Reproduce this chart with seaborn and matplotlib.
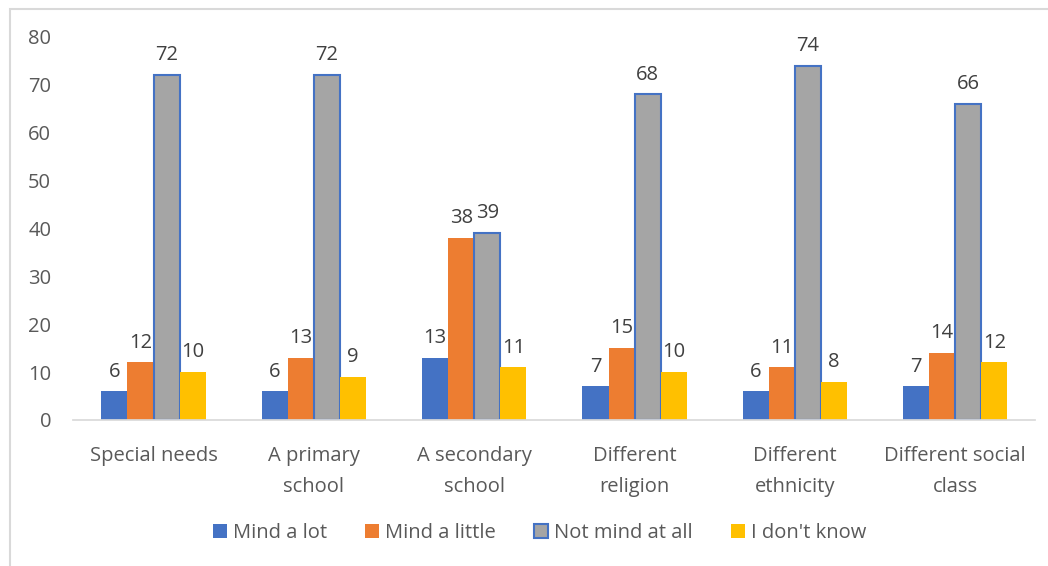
import matplotlib
matplotlib.use("Agg")
import matplotlib.pyplot as plt
import seaborn as sns
import pandas as pd
from matplotlib.patches import Rectangle

categories = ["Special needs", "A primary\nschool", "A secondary\nschool", "Different\nreligion", "Different\nethnicity", "Different social\nclass"]
series = ["Mind a lot", "Mind a little", "Not mind at all", "I don't know"]
mind_a_lot = [6, 6, 13, 7, 6, 7]
mind_a_little = [12, 13, 38, 15, 11, 14]
not_mind_at_all = [72, 72, 39, 68, 74, 66]
dont_know = [10, 9, 11, 10, 8, 12]
colors = ["#4472C4", "#ED7D31", "#A5A5A5", "#FFC000"]

rows = []
for s, vals in zip(series, [mind_a_lot, mind_a_little, not_mind_at_all, dont_know]):
    for c, v in zip(categories, vals):
        rows.append({"category": c, "series": s, "value": v})
df = pd.DataFrame(rows)

sns.set_theme(style="white")
plt.rcParams['font.family'] = ['Open Sans', 'DejaVu Sans']
txt = "#595959"
fs = 14.5

fig = plt.figure(figsize=(10.48, 5.66), dpi=100)
ax = fig.add_axes([0.07, 0.258, 0.918, 0.677])
sns.barplot(data=df, x="category", y="value", hue="series", palette=colors,
            order=categories, hue_order=series, width=0.65, ax=ax, saturation=1)

for i, cont in enumerate(ax.containers):
    for p in cont:
        if i == 2:
            p.set_edgecolor("#4472C4")
            p.set_linewidth(1.5)
        else:
            p.set_edgecolor("none")
    ax.bar_label(cont, fmt="%d", padding=7, fontsize=fs, color="#404040")

ax.set_ylim(0, 80)
ax.set_yticks(range(0, 81, 10))
ax.set_xlim(-0.5, 5.5)
ax.set_xlabel("")
ax.set_ylabel("")
ax.tick_params(axis="both", labelsize=fs, colors=txt, length=0)
ax.tick_params(axis="y", pad=16)
ax.tick_params(axis="x", pad=19)
for lab in ax.get_xticklabels():
    lab.set_linespacing(1.7)
for sp in ["top", "right", "left"]:
    ax.spines[sp].set_visible(False)
ax.spines["bottom"].set_color("#D9D9D9")
ax.grid(False)

handles, labels = ax.get_legend_handles_labels()
ax.legend_.remove()
leg = fig.legend(handles, labels, loc="center", bbox_to_anchor=(0.515, 0.058), ncol=4,
                 frameon=False, fontsize=fs, handlelength=0.7, handleheight=0.7,
                 handletextpad=0.3, columnspacing=1.9, labelcolor=txt)
for i, h in enumerate(leg.legend_handles):
    if i == 2:
        h.set_edgecolor("#4472C4")
        h.set_linewidth(1.5)
    else:
        h.set_edgecolor("none")

fig.patches.append(Rectangle((0.0095, -0.05), 1.2, 1.034, transform=fig.transFigure,
                             fill=False, edgecolor="#D9D9D9", linewidth=1.5))
fig.savefig("out.png", dpi=100)
